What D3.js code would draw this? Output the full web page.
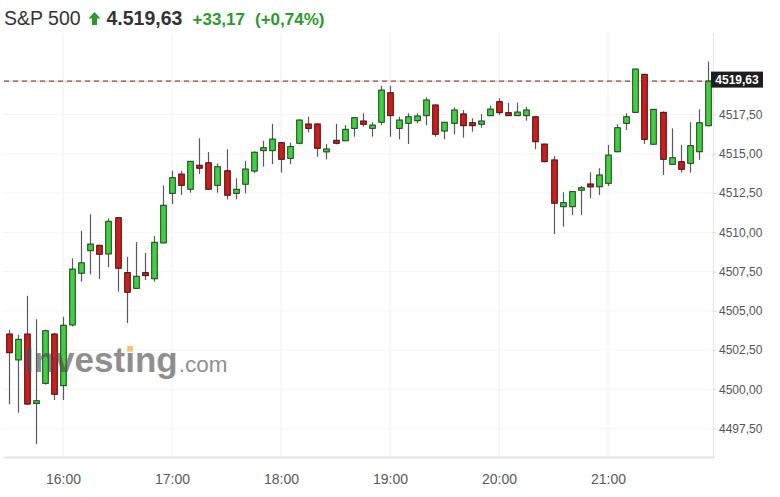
<!DOCTYPE html>
<html>
<head>
<meta charset="utf-8">
<script src="https://cdn.jsdelivr.net/npm/d3@7"></script>
<style>
  body { margin: 0; background: #fff; }
  svg { display: block; font-family: Arial, "Liberation Sans", sans-serif; }
</style>
</head>
<body>
<div id="chart"></div>
<script>
// 5-minute candles, S&P 500
const times = ["15:30","15:35","15:40","15:45","15:50","15:55",
  "16:00","16:05","16:10","16:15","16:20","16:25","16:30","16:35","16:40","16:45","16:50","16:55",
  "17:00","17:05","17:10","17:15","17:20","17:25","17:30","17:35","17:40","17:45","17:50","17:55",
  "18:00","18:05","18:10","18:15","18:20","18:25","18:30","18:35","18:40","18:45","18:50","18:55",
  "19:00","19:05","19:10","19:15","19:20","19:25","19:30","19:35","19:40","19:45","19:50","19:55",
  "20:00","20:05","20:10","20:15","20:20","20:25","20:30","20:35","20:40","20:45","20:50","20:55",
  "21:00","21:05","21:10","21:15","21:20","21:25","21:30","21:35","21:40","21:45","21:50","21:55"];

const open = [4503.52,4501.87,4503.52,4499.10,4500.38,4503.52,
  4500.23,4504.10,4507.39,4508.83,4509.17,4508.62,4510.93,4507.43,4506.43,4507.43,4507.04,4509.32,
  4512.48,4513.71,4512.74,4514.27,4514.43,4512.99,4513.92,4512.48,4513.06,4513.90,4515.20,4515.20,
  4515.71,4514.71,4515.67,4516.90,4516.90,4515.12,4515.86,4515.83,4516.62,4517.09,4516.62,4517.01,
  4518.89,4516.62,4516.94,4517.11,4517.43,4518.11,4516.45,4516.94,4517.54,4516.98,4516.88,4517.43,
  4518.32,4517.62,4517.43,4517.43,4517.36,4515.62,4514.61,4511.63,4511.63,4512.68,4513.08,4512.90,
  4513.12,4515.13,4516.94,4517.64,4520.06,4515.61,4517.64,4514.33,4514.50,4514.39,4515.13,4516.79];

const high = [4503.78,4503.46,4505.96,4504.46,4503.80,4503.60,
  4504.62,4508.34,4510.10,4511.15,4509.20,4510.89,4510.95,4508.43,4509.38,4508.68,4509.76,4512.99,
  4513.92,4513.92,4514.55,4515.99,4515.11,4514.39,4515.29,4513.44,4514.54,4515.15,4515.83,4516.90,
  4515.75,4515.71,4517.20,4517.36,4516.95,4515.62,4516.90,4516.83,4517.32,4517.58,4517.01,4519.34,
  4519.34,4517.36,4517.58,4517.58,4518.60,4518.15,4517.03,4517.96,4517.79,4517.26,4517.52,4518.06,
  4518.54,4518.24,4518.26,4518.00,4517.40,4515.65,4514.86,4512.55,4512.60,4512.95,4513.82,4514.08,
  4515.56,4516.88,4517.58,4520.42,4520.10,4517.85,4517.70,4516.62,4515.56,4517.01,4517.83,4520.87];

const low = [4499.04,4498.51,4499.00,4496.52,4500.30,4499.32,
  4499.32,4504.00,4506.85,4507.32,4507.03,4507.77,4506.22,4504.22,4506.40,4506.96,4506.85,4509.30,
  4511.80,4512.38,4512.52,4513.71,4512.70,4512.52,4512.10,4512.10,4512.48,4513.76,4514.18,4514.35,
  4513.80,4514.35,4515.60,4516.37,4514.82,4514.65,4515.60,4515.80,4516.09,4516.73,4516.09,4516.83,
  4516.09,4515.92,4515.62,4516.94,4516.83,4516.09,4515.92,4516.24,4516.03,4516.41,4516.66,4517.40,
  4517.47,4517.40,4517.43,4517.11,4515.29,4514.45,4509.89,4510.36,4511.10,4511.10,4512.17,4512.38,
  4512.95,4515.10,4516.52,4517.60,4515.62,4515.58,4513.65,4514.30,4513.80,4513.80,4514.61,4516.75];

const close = [4502.33,4503.18,4499.06,4499.27,4503.73,4499.68,
  4504.08,4507.66,4508.06,4509.25,4508.60,4510.70,4507.71,4506.18,4507.20,4507.24,4509.36,4511.72,
  4513.48,4512.99,4514.52,4514.08,4512.74,4514.18,4512.36,4512.74,4514.03,4515.10,4515.39,4515.94,
  4514.65,4515.46,4517.15,4516.62,4515.35,4515.31,4515.67,4516.56,4517.30,4516.88,4516.83,4519.06,
  4517.43,4517.15,4517.36,4517.41,4518.43,4516.24,4517.01,4517.79,4516.79,4516.79,4517.09,4517.85,
  4517.62,4517.43,4517.66,4517.79,4515.77,4514.50,4511.85,4511.89,4512.59,4512.84,4512.89,4513.65,
  4514.92,4516.66,4517.36,4520.40,4515.92,4517.83,4514.65,4514.75,4514.01,4515.52,4516.98,4519.63];

const hourTicks = ["16:00","17:00","18:00","19:00","20:00","21:00"];
const priceTicks = [4497.5,4500,4502.5,4505,4507.5,4510,4512.5,4515,4517.5];
const lastPrice = 4519.63;

const W = 780, H = 497;
const parse = d3.timeParse("%H:%M");
const candles = times.map((t, i) => ({
  t: parse(t), o: open[i], h: high[i], l: low[i], c: close[i]
}));

const svg = d3.select("#chart").append("svg")
  .attr("width", W).attr("height", H);

const plotL = 4, plotR = 713, plotT = 33, plotB = 457;

const x = d3.scaleTime()
  .domain([parse("16:00"), parse("21:00")])
  .range([63, 608]);

const y = d3.scaleLinear()
  .domain([4495.688, 4522.694])
  .range([plotB, plotT]);

const locale = d3.formatLocale({decimal: ",", thousands: ".", grouping: [3], currency: ["", ""]});
const fmt = locale.format(".2f");

// gridlines
svg.append("g")
  .selectAll("line")
  .data(hourTicks.map(parse))
  .join("line")
  .attr("x1", d => x(d)).attr("x2", d => x(d))
  .attr("y1", plotT).attr("y2", plotB)
  .attr("stroke", "#f0f0f0").attr("stroke-width", 1);

svg.append("g")
  .selectAll("line")
  .data(priceTicks)
  .join("line")
  .attr("x1", plotL).attr("x2", plotR)
  .attr("y1", d => y(d)).attr("y2", d => y(d))
  .attr("stroke", "#f6f6f6").attr("stroke-width", 1);

// last price line
svg.append("line")
  .attr("x1", plotL).attr("x2", plotR)
  .attr("y1", y(lastPrice)).attr("y2", y(lastPrice))
  .attr("stroke", "#f3c4c4").attr("stroke-width", 1);
svg.append("line")
  .attr("x1", plotL).attr("x2", plotR)
  .attr("y1", y(lastPrice)).attr("y2", y(lastPrice))
  .attr("stroke", "#6e2a2a").attr("stroke-width", 1)
  .attr("stroke-dasharray", "5,4");

// candles
const bodyW = 5.6;
const cg = svg.append("g");
cg.selectAll("line")
  .data(candles)
  .join("line")
  .attr("x1", d => Math.round(x(d.t)) + 0.5).attr("x2", d => Math.round(x(d.t)) + 0.5)
  .attr("y1", d => y(d.h)).attr("y2", d => y(d.l))
  .attr("stroke", "#5a5a5a").attr("stroke-width", 1.2);

cg.selectAll("rect")
  .data(candles)
  .join("rect")
  .attr("x", d => Math.round(x(d.t)) + 0.5 - bodyW / 2)
  .attr("y", d => y(Math.max(d.o, d.c)))
  .attr("width", bodyW)
  .attr("height", d => Math.max(1.5, Math.abs(y(d.o) - y(d.c))))
  .attr("fill", d => d.c >= d.o ? "#3ad43a" : "#d61a1a")
  .attr("stroke", d => d.c >= d.o ? "#1f3a1f" : "#3a1010")
  .attr("stroke-width", 1);

// watermark
const wm = svg.append("g").attr("opacity", 0.62);
const wmText = wm.append("text")
  .attr("x", 24).attr("y", 372)
  .attr("font-size", 35).attr("font-weight", "bold")
  .attr("fill", "#4c4c4c")
  .text("Investıng");
const wmW = wmText.node().getComputedTextLength();
wm.append("text")
  .attr("x", 24 + wmW + 1).attr("y", 372)
  .attr("font-size", 22.5)
  .attr("fill", "#4c4c4c")
  .text(".com");
const iBox = wmText.node().getExtentOfChar(6);
svg.append("rect")
  .attr("x", iBox.x + iBox.width / 2 - 2.8).attr("y", 346)
  .attr("width", 5.6).attr("height", 5.6)
  .attr("fill", "#f7b552").attr("opacity", 0.85);

// x axis
svg.append("line")
  .attr("x1", plotL).attr("x2", plotR + 2)
  .attr("y1", plotB + 0.5).attr("y2", plotB + 0.5)
  .attr("stroke", "#e4e4e4").attr("stroke-width", 2);

const xAxis = svg.append("g")
  .attr("transform", `translate(0,${plotB})`)
  .call(d3.axisBottom(x)
    .tickValues(hourTicks.map(parse))
    .tickFormat(d3.timeFormat("%H:%M"))
    .tickSize(0).tickPadding(17));
xAxis.select(".domain").remove();
xAxis.selectAll("text")
  .attr("font-size", 14).attr("fill", "#5a5a5a")
  .attr("font-family", "Arial, 'Liberation Sans', sans-serif");

// y axis
svg.append("line")
  .attr("x1", plotR + 0.5).attr("x2", plotR + 0.5)
  .attr("y1", plotT).attr("y2", plotB)
  .attr("stroke", "#e8e8e8").attr("stroke-width", 1);

const yAxis = svg.append("g")
  .attr("transform", `translate(${plotR},0)`)
  .call(d3.axisRight(y)
    .tickValues(priceTicks)
    .tickFormat(fmt)
    .tickSize(3).tickPadding(3));
yAxis.select(".domain").remove();
yAxis.selectAll(".tick line").attr("stroke", "#d8d8d8");
yAxis.selectAll("text")
  .attr("font-size", 12).attr("fill", "#555")
  .attr("font-family", "Arial, 'Liberation Sans', sans-serif");

// last price tag
svg.append("rect")
  .attr("x", 711).attr("y", y(lastPrice) - 9.5)
  .attr("width", 52).attr("height", 16)
  .attr("fill", "#1e1e1e");
svg.append("text")
  .attr("x", 737).attr("y", y(lastPrice) + 3)
  .attr("text-anchor", "middle")
  .attr("font-size", 12).attr("font-weight", "bold")
  .attr("fill", "#fff")
  .text(fmt(lastPrice));

// header
const head = svg.append("g");
head.append("text")
  .attr("x", 4).attr("y", 25)
  .attr("font-size", 19.5).attr("fill", "#333")
  .text("S&P 500");
head.append("path")
  .attr("d", "M94.5,12 L100.5,18.5 L97,18.5 L97,25 L92,25 L92,18.5 L88.5,18.5 Z")
  .attr("fill", "#2a9a2a");
head.append("text")
  .attr("x", 106.5).attr("y", 25)
  .attr("font-size", 19.5).attr("font-weight", "bold").attr("fill", "#333")
  .text("4.519,63");
head.append("text")
  .attr("x", 192.5).attr("y", 25)
  .attr("font-size", 17).attr("font-weight", "bold").attr("fill", "#2a9a2a")
  .text("+33,17");
head.append("text")
  .attr("x", 255).attr("y", 25)
  .attr("font-size", 17).attr("font-weight", "bold").attr("fill", "#2a9a2a")
  .text("(+0,74%)");
</script>
</body>
</html>
